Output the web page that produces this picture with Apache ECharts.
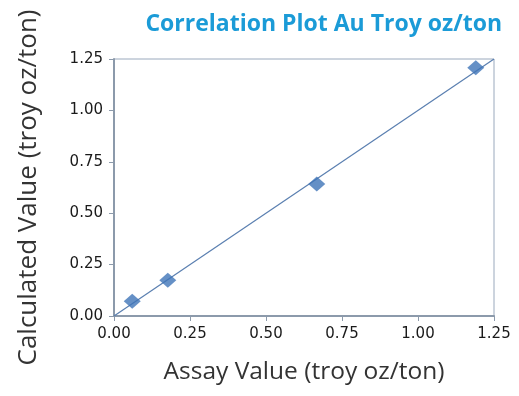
<!DOCTYPE html>
<html>
<head>
<meta charset="utf-8">
<script src="https://cdn.jsdelivr.net/npm/echarts@6/dist/echarts.min.js"></script>
<style>
html,body{margin:0;padding:0;background:#fff;}
#main{width:519px;height:396px;}
</style>
</head>
<body>
<div id="main"></div>
<script>
var assayValues = [0.06, 0.177, 0.667, 1.19];
var calculatedValues = [0.072, 0.174, 0.642, 1.208];
var trendX = [0, 1.25];
var trendY = [0, 1.25];
var tickLabels = ['0.00', '0.25', '0.50', '0.75', '1.00', '1.25'];

var points = assayValues.map(function (v, i) { return [v, calculatedValues[i]]; });
var trend = trendX.map(function (v, i) { return [v, trendY[i]]; });

var chart = echarts.init(document.getElementById('main'), null, {renderer: 'canvas'});
var labelStyle = {color: '#1a1a1a', fontFamily: 'DejaVu Sans', fontSize: 15, margin: 11,
  formatter: function (v) { return tickLabels[Math.round(v / 0.25)]; }};
var axisCommon = {
  type: 'value', min: 0, max: 1.25, interval: 0.25,
  splitLine: {show: false},
  axisLine: {show: true, lineStyle: {color: '#8c9aab', width: 2}},
  axisTick: {show: true, inside: false, length: 5, lineStyle: {color: '#8c9aab', width: 1}},
  axisLabel: labelStyle,
  nameLocation: 'middle'
};
chart.setOption({
  animation: false,
  title: {
    text: 'Correlation Plot Au Troy oz/ton',
    right: 12, top: 8,
    textStyle: {color: '#1b9bd7', fontFamily: 'Open Sans', fontWeight: 'bold', fontSize: 23}
  },
  grid: {left: 114, right: 25, top: 59, bottom: 80, show: true, borderColor: '#9aa9bd', borderWidth: 1},
  xAxis: Object.assign({}, axisCommon, {
    name: 'Assay Value (troy oz/ton)', nameGap: 44,
    nameTextStyle: {color: '#333', fontFamily: 'Open Sans', fontSize: 24.5}
  }),
  yAxis: Object.assign({}, axisCommon, {
    name: 'Calculated Value (troy oz/ton)', nameGap: 72,
    nameTextStyle: {color: '#333', fontFamily: 'Open Sans', fontSize: 26}
  }),
  series: [
    {
      type: 'line', data: trend, symbol: 'none',
      lineStyle: {color: '#5a7fb0', width: 1.2}, z: 2
    },
    {
      type: 'scatter', data: points, symbol: 'diamond', symbolSize: [17, 15],
      itemStyle: {color: '#3f74b8'}, z: 3
    }
  ]
});
</script>
</body>
</html>
